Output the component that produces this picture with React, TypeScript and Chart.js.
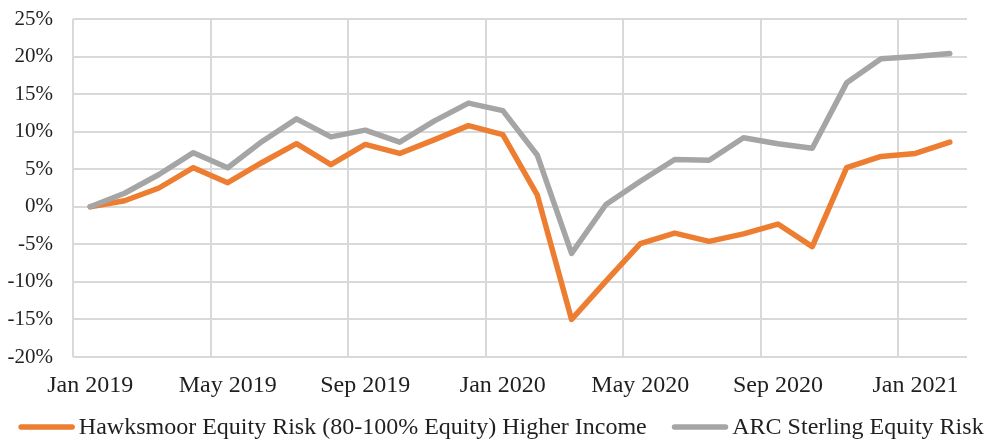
import React, { useEffect, useRef } from 'react';
import { Chart, registerables } from 'chart.js';

Chart.register(...registerables);

const months = [
  'Jan 2019', 'Feb 2019', 'Mar 2019', 'Apr 2019', 'May 2019', 'Jun 2019',
  'Jul 2019', 'Aug 2019', 'Sep 2019', 'Oct 2019', 'Nov 2019', 'Dec 2019',
  'Jan 2020', 'Feb 2020', 'Mar 2020', 'Apr 2020', 'May 2020', 'Jun 2020',
  'Jul 2020', 'Aug 2020', 'Sep 2020', 'Oct 2020', 'Nov 2020', 'Dec 2020',
  'Jan 2021', 'Feb 2021',
];

const hawksmoor = [
  0, 0.8, 2.5, 5.2, 3.2, 5.9, 8.4, 5.6, 8.3, 7.1, 8.9, 10.8,
  9.6, 1.6, -15.0, -9.9, -4.9, -3.5, -4.6, -3.6, -2.3, -5.3, 5.2, 6.7,
  7.1, 8.6,
];

const arc = [
  0, 1.8, 4.3, 7.2, 5.2, 8.7, 11.7, 9.3, 10.2, 8.6, 11.4, 13.8,
  12.8, 6.9, -6.2, 0.3, 3.4, 6.3, 6.2, 9.2, 8.4, 7.8, 16.5, 19.7,
  20.0, 20.4,
];

const seriesLabels = [
  'Hawksmoor Equity Risk (80-100% Equity) Higher Income',
  'ARC Sterling Equity Risk',
];
const seriesColors = ['#ED7D31', '#A5A5A5'];

const yMin = -20;
const yMax = 25;
const yStep = 5;
const xLabelEvery = 4;

const FONT = '"Liberation Serif", "Times New Roman", serif';
const TEXT = '#1f1f1f';
const GRID = '#D9D9D9';

const legendPlugin = {
  id: 'customLegend',
  afterDraw(chart: any) {
    const ctx = chart.ctx;
    const ds = chart.data.datasets;
    ctx.save();
    ctx.font = `24px ${FONT}`;
    const lineLen = 51;
    const cap = 2.75;
    const textGap = 4;
    const itemGap = 25;
    const widths = ds.map((d: any) => ctx.measureText(d.label).width);
    let total = 0;
    widths.forEach((w: number, i: number) => {
      total += lineLen + 2 * cap + textGap + w + (i < widths.length - 1 ? itemGap : 0);
    });
    let x = 501 - total / 2;
    const yLine = 427;
    const yText = 434;
    ds.forEach((d: any, i: number) => {
      ctx.strokeStyle = d.borderColor;
      ctx.lineWidth = 5.5;
      ctx.lineCap = 'round';
      ctx.beginPath();
      ctx.moveTo(x + cap, yLine);
      ctx.lineTo(x + cap + lineLen, yLine);
      ctx.stroke();
      x += lineLen + 2 * cap + textGap;
      ctx.fillStyle = TEXT;
      ctx.textAlign = 'left';
      ctx.textBaseline = 'alphabetic';
      ctx.fillText(d.label, x, yText);
      x += widths[i] + itemGap;
    });
    ctx.restore();
  },
};

export default function App() {
  const ref = useRef<HTMLCanvasElement | null>(null);

  useEffect(() => {
    if (!ref.current) return;
    const chart = new Chart(ref.current, {
      type: 'line',
      data: {
        labels: months,
        datasets: [
          {
            label: seriesLabels[0],
            data: hawksmoor,
            borderColor: seriesColors[0],
            backgroundColor: seriesColors[0],
            borderWidth: 5.5,
            pointRadius: 0,
            tension: 0,
            borderJoinStyle: 'round',
            borderCapStyle: 'round',
            order: 1,
          },
          {
            label: seriesLabels[1],
            data: arc,
            borderColor: seriesColors[1],
            backgroundColor: seriesColors[1],
            borderWidth: 5.5,
            pointRadius: 0,
            tension: 0,
            borderJoinStyle: 'round',
            borderCapStyle: 'round',
            order: 0,
          },
        ],
      },
      options: {
        animation: false,
        responsive: true,
        maintainAspectRatio: false,
        layout: { padding: { left: 0, right: 31, top: 19, bottom: 0 } },
        plugins: {
          legend: { display: false },
          tooltip: { enabled: false },
        },
        scales: {
          x: {
            type: 'category',
            offset: true,
            grid: {
              offset: true,
              drawTicks: false,
              lineWidth: 2,
              color: (c: any) => (c.index % xLabelEvery === 0 ? GRID : 'rgba(0,0,0,0)'),
            },
            border: { display: false },
            ticks: {
              autoSkip: false,
              maxRotation: 0,
              minRotation: 0,
              padding: 14,
              color: TEXT,
              font: { family: FONT, size: 24 },
              callback: (_v: any, i: number) => (i % xLabelEvery === 0 ? months[i] : ''),
            },
            afterFit: (s: any) => {
              s.height = 84;
              s.paddingLeft = 0;
              s.paddingRight = 0;
            },
          },
          y: {
            min: yMin,
            max: yMax,
            grid: { drawTicks: false, lineWidth: 2, color: GRID },
            border: { display: false },
            ticks: {
              stepSize: yStep,
              padding: 20,
              color: TEXT,
              font: { family: FONT, size: 21 },
              callback: (v: any) => `${v}%`,
            },
            afterFit: (s: any) => {
              s.width = 73;
              s.paddingTop = 0;
              s.paddingBottom = 0;
            },
          },
        },
      },
      plugins: [legendPlugin],
    });
    return () => chart.destroy();
  }, []);

  return (
    <div style={{ position: 'fixed', left: 0, top: 0, width: 998, height: 441, background: '#fff' }}>
      <canvas ref={ref} />
    </div>
  );
}
